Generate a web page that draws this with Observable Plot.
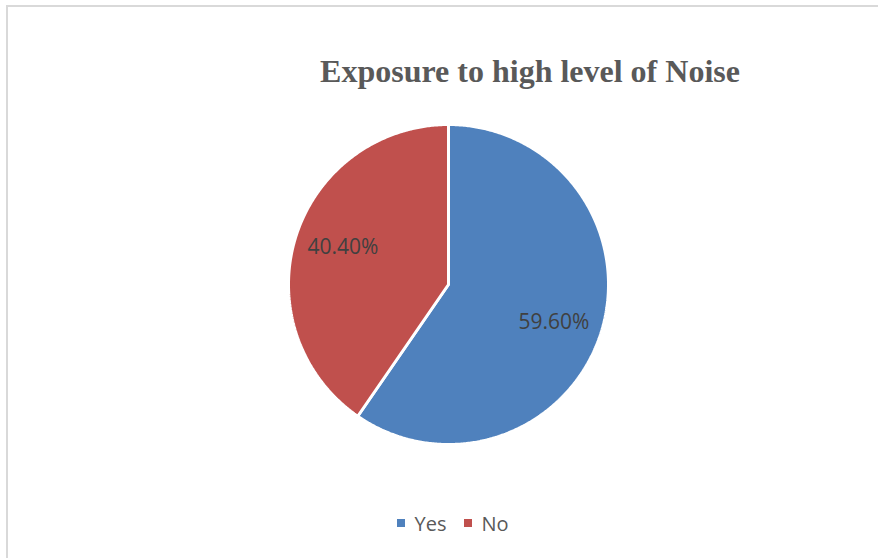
<!DOCTYPE html>
<html>
<head>
<meta charset="utf-8">
<script src="https://cdn.jsdelivr.net/npm/d3@7"></script>
<script src="https://cdn.jsdelivr.net/npm/@observablehq/plot@0.6"></script>
<style>
  html, body { margin: 0; padding: 0; background: #fff; }
  #wrap { position: relative; width: 878px; height: 558px; overflow: hidden; }
  #frame { position: absolute; left: 6px; top: 5px; width: 1000px; height: 600px;
           border-left: 2px solid #d9d9d9; border-top: 2px solid #d9d9d9; box-sizing: border-box; }
  #title { position: absolute; left: 0; width: 1060px; top: 53px; text-align: center;
           font-family: "Liberation Serif", "Times New Roman", serif; font-weight: bold;
           font-size: 32px; color: #595959; white-space: nowrap; }
  #legend { position: absolute; left: 0; width: 906px; top: 510px; text-align: center;
            font-family: "Open Sans", sans-serif; font-size: 20px; color: #595959; }
  #legend span.item { display: inline-block; margin: 0 9px; }
  #legend span.sw { display: inline-block; width: 8px; height: 8px; margin-right: 9px; vertical-align: 4px; }
  #chart { position: absolute; left: 0; top: 0; }
</style>
</head>
<body>
<div id="wrap">
  <div id="frame"></div>
  <div id="chart"></div>
  <div id="title"></div>
  <div id="legend"></div>
</div>
<script>
const titleText = "Exposure to high level of Noise";
const categories = ["Yes", "No"];
const values = [59.6, 40.4];
const labels = ["59.60%", "40.40%"];
const colors = ["#4f81bd", "#c0504d"];

// layout constants (pixels)
const W = 878, H = 558, CX = 448, CY = 284, R = 160, LABEL_R = 0.70, LABEL_TURN = 0.04;

const data = categories.map((c, i) => ({category: c, value: values[i], label: labels[i]}));
const arcs = d3.pie().sort(null).value(d => d.value)(data);

// polygon points of each slice in unit-circle coordinates (clockwise from 12 o'clock)
const slicePts = [];
arcs.forEach(a => {
  const n = Math.max(2, Math.ceil((a.endAngle - a.startAngle) / (Math.PI / 360)));
  slicePts.push({category: a.data.category, x: 0, y: 0});
  for (let k = 0; k <= n; k++) {
    const t = a.startAngle + (a.endAngle - a.startAngle) * k / n;
    slicePts.push({category: a.data.category, x: Math.sin(t), y: Math.cos(t)});
  }
});
const labelPts = arcs.map(a => {
  const m = (a.startAngle + a.endAngle) / 2 + LABEL_TURN;
  return {label: a.data.label, x: LABEL_R * Math.sin(m), y: LABEL_R * Math.cos(m)};
});

const chart = Plot.plot({
  width: W, height: H,
  margin: 0,
  x: {domain: [-CX / R, (W - CX) / R], range: [0, W], axis: null},
  y: {domain: [-(H - CY) / R, CY / R], range: [H, 0], axis: null},
  color: {domain: categories, range: colors},
  marks: [
    Plot.line(slicePts, {x: "x", y: "y", z: "category", fill: "category",
      stroke: "white", strokeWidth: 3, strokeLinejoin: "miter", curve: "linear-closed"}),
    Plot.text(labelPts, {x: "x", y: "y", text: "label", fill: "#404040",
      fontSize: 21, fontFamily: "Open Sans, sans-serif"})
  ]
});
document.getElementById("chart").appendChild(chart);

document.getElementById("title").textContent = titleText;
const leg = document.getElementById("legend");
categories.forEach((c, i) => {
  const item = document.createElement("span");
  item.className = "item";
  const sw = document.createElement("span");
  sw.className = "sw";
  sw.style.background = colors[i];
  item.appendChild(sw);
  item.appendChild(document.createTextNode(c));
  leg.appendChild(item);
});
</script>
</body>
</html>
